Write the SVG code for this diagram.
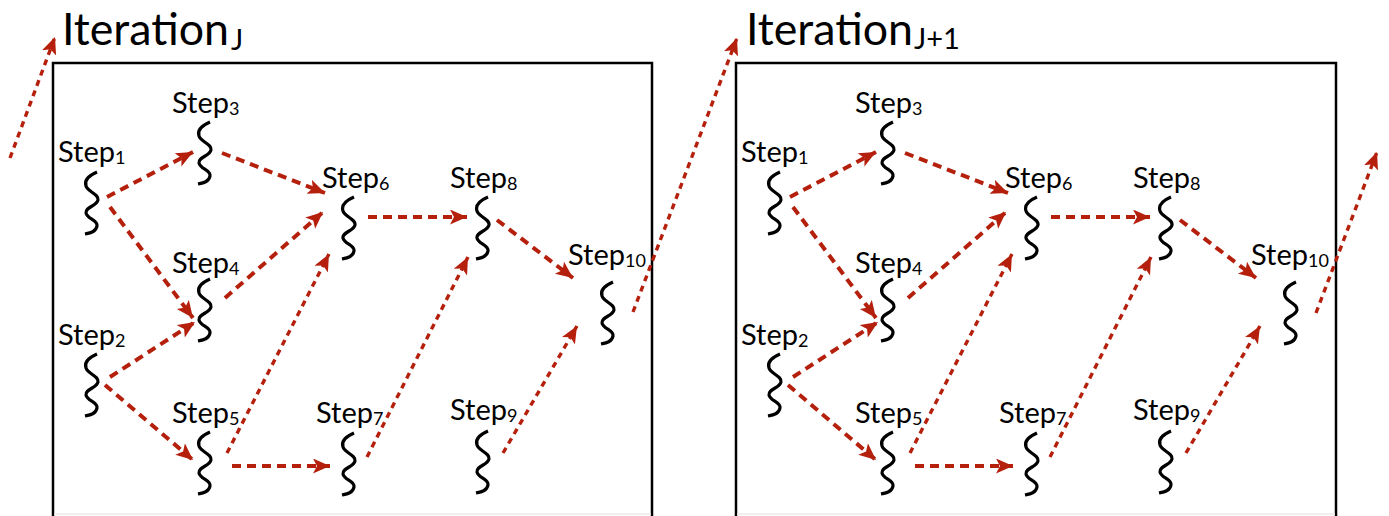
<svg xmlns="http://www.w3.org/2000/svg" xmlns:xlink="http://www.w3.org/1999/xlink" width="1389" height="516" viewBox="0 0 1389 516">
<style>
.box{fill:none;stroke:#000;stroke-width:2.5}
.faint{stroke:#ebebeb;stroke-width:1.5}
.title{font-family:Lato,"Open Sans","Liberation Sans",sans-serif;font-size:44px;fill:#000}
.tsub{font-family:Lato,"Open Sans","Liberation Sans",sans-serif;font-size:29px;fill:#000}
.lbl{font-family:Lato,"Open Sans","Liberation Sans",sans-serif;font-size:29px;fill:#000}
.sub{font-size:18px}
.sq{fill:none;stroke:#000;stroke-width:3.2}
.dash{fill:none;stroke:#b5200d;stroke-width:4;stroke-dasharray:9 6;marker-end:url(#ah)}
.dot{fill:none;stroke:#b5200d;stroke-width:3.4;stroke-dasharray:6 5;marker-end:url(#ah)}
</style>
<defs>
<marker id="ah" markerUnits="userSpaceOnUse" markerWidth="18" markerHeight="16" refX="17" refY="7.5" orient="auto">
<path d="M0,0 L17,7.5 L0,15 L4,7.5 Z" fill="#b5200d"/>
</marker>
<path id="sq" class="sq" d="M5,0 C-2,3 -8,8 -6,14 S7,22 6,28 S-7,35 -6,41 S6,48 5,54 S-2,61 -7,62"/>
</defs>
<rect width="1389" height="516" fill="#fff"/>

<!-- Panel J -->
<g id="iteration-j">
<path class="box" d="M53,516 V63 H652 V516"/>
<line class="faint" x1="54" y1="514" x2="651" y2="514"/>
<text class="title" x="62" y="45" textLength="167" lengthAdjust="spacingAndGlyphs">Iteration</text>
<text class="tsub" x="231" y="50">J</text>
</g>
<g id="j-step1"><text class="lbl" x="58" y="162">Step<tspan class="sub" dy="2">1</tspan></text><use xlink:href="#sq" x="92" y="172"/></g>
<g id="j-step2"><text class="lbl" x="58" y="345">Step<tspan class="sub" dy="2">2</tspan></text><use xlink:href="#sq" x="92" y="354"/></g>
<g id="j-step3"><text class="lbl" x="172" y="113">Step<tspan class="sub" dy="2">3</tspan></text><use xlink:href="#sq" x="205" y="122"/></g>
<g id="j-step4"><text class="lbl" x="172" y="273">Step<tspan class="sub" dy="2">4</tspan></text><use xlink:href="#sq" x="205" y="279"/></g>
<g id="j-step5"><text class="lbl" x="172" y="423">Step<tspan class="sub" dy="2">5</tspan></text><use xlink:href="#sq" x="205" y="432"/></g>
<g id="j-step6"><text class="lbl" x="322" y="188">Step<tspan class="sub" dy="2">6</tspan></text><use xlink:href="#sq" x="349" y="197"/></g>
<g id="j-step7"><text class="lbl" x="316" y="423">Step<tspan class="sub" dy="2">7</tspan></text><use xlink:href="#sq" x="349" y="433"/></g>
<g id="j-step8"><text class="lbl" x="450" y="188">Step<tspan class="sub" dy="2">8</tspan></text><use xlink:href="#sq" x="483" y="197"/></g>
<g id="j-step9"><text class="lbl" x="450" y="420">Step<tspan class="sub" dy="2">9</tspan></text><use xlink:href="#sq" x="483" y="431"/></g>
<g id="j-step10"><text class="lbl" x="568" y="265">Step<tspan class="sub" dy="2">10</tspan></text><use xlink:href="#sq" x="608" y="282"/></g>

<!-- Panel J+1 -->
<g id="iteration-j1">
<path class="box" d="M736,516 V63 H1336 V516"/>
<line class="faint" x1="737" y1="514" x2="1335" y2="514"/>
<text class="title" x="746" y="45" textLength="167" lengthAdjust="spacingAndGlyphs">Iteration</text>
<text class="tsub" x="914" y="49">J+1</text>
</g>
<g id="j1-step1"><text class="lbl" x="741" y="162">Step<tspan class="sub" dy="2">1</tspan></text><use xlink:href="#sq" x="775" y="172"/></g>
<g id="j1-step2"><text class="lbl" x="741" y="345">Step<tspan class="sub" dy="2">2</tspan></text><use xlink:href="#sq" x="775" y="354"/></g>
<g id="j1-step3"><text class="lbl" x="855" y="113">Step<tspan class="sub" dy="2">3</tspan></text><use xlink:href="#sq" x="888" y="122"/></g>
<g id="j1-step4"><text class="lbl" x="855" y="273">Step<tspan class="sub" dy="2">4</tspan></text><use xlink:href="#sq" x="888" y="279"/></g>
<g id="j1-step5"><text class="lbl" x="855" y="423">Step<tspan class="sub" dy="2">5</tspan></text><use xlink:href="#sq" x="888" y="432"/></g>
<g id="j1-step6"><text class="lbl" x="1005" y="188">Step<tspan class="sub" dy="2">6</tspan></text><use xlink:href="#sq" x="1032" y="197"/></g>
<g id="j1-step7"><text class="lbl" x="999" y="423">Step<tspan class="sub" dy="2">7</tspan></text><use xlink:href="#sq" x="1032" y="433"/></g>
<g id="j1-step8"><text class="lbl" x="1133" y="188">Step<tspan class="sub" dy="2">8</tspan></text><use xlink:href="#sq" x="1166" y="197"/></g>
<g id="j1-step9"><text class="lbl" x="1133" y="420">Step<tspan class="sub" dy="2">9</tspan></text><use xlink:href="#sq" x="1166" y="431"/></g>
<g id="j1-step10"><text class="lbl" x="1251" y="265">Step<tspan class="sub" dy="2">10</tspan></text><use xlink:href="#sq" x="1291" y="282"/></g>

<g id="connectors">
<path class="dot" d="M10,158 L55,37"/>
<path class="dash" d="M107,197 L193,152"/>
<path class="dash" d="M222,153 L325,193"/>
<path class="dash" d="M110,207 L193,318"/>
<path class="dash" d="M225,298 L323,212"/>
<path class="dash" d="M110,377 L195,322"/>
<path class="dash" d="M105,385 L193,460"/>
<path class="dot" d="M227,453 L329,254"/>
<path class="dash" d="M232,466 L330,466"/>
<path class="dash" d="M368,217 L467,217"/>
<path class="dot" d="M367,457 L468,257"/>
<path class="dash" d="M497,220 L573,278"/>
<path class="dot" d="M503,453 L577,326"/>
<path class="dot" d="M633,312 L737,38"/>

<path class="dash" d="M790,197 L876,152"/>
<path class="dash" d="M905,153 L1008,193"/>
<path class="dash" d="M793,207 L876,318"/>
<path class="dash" d="M908,298 L1006,212"/>
<path class="dash" d="M793,377 L878,322"/>
<path class="dash" d="M788,385 L876,460"/>
<path class="dot" d="M910,453 L1012,254"/>
<path class="dash" d="M915,466 L1013,466"/>
<path class="dash" d="M1051,217 L1150,217"/>
<path class="dot" d="M1050,457 L1151,257"/>
<path class="dash" d="M1180,220 L1256,278"/>
<path class="dot" d="M1186,453 L1260,326"/>
<path class="dot" d="M1316,313 L1377,152"/>
</g>
</svg>
